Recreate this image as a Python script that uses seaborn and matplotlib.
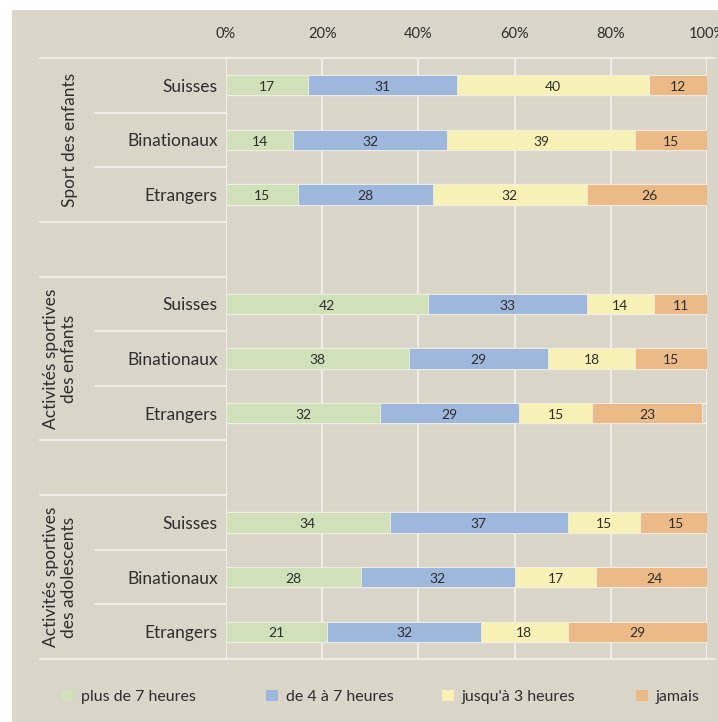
import matplotlib
matplotlib.use("Agg")
import matplotlib.pyplot as plt
import matplotlib.patches as mpatches
import matplotlib.transforms as mtransforms
import numpy as np
import pandas as pd
import seaborn as sns

# ---- data -------------------------------------------------------------
groups = ["Sport des enfants",
          "Activités sportives\ndes enfants",
          "Activités sportives\ndes adolescents"]
origins = ["Suisses", "Binationaux", "Etrangers"]
series = ["plus de 7 heures", "de 4 à 7 heures", "jusqu'à 3 heures", "jamais"]

plus_7h = [17, 14, 15, 42, 38, 32, 34, 28, 21]
de_4_a_7h = [31, 32, 28, 33, 29, 29, 37, 32, 32]
jusqua_3h = [40, 39, 32, 14, 18, 15, 15, 17, 18]
jamais = [12, 15, 26, 11, 15, 23, 15, 24, 29]

ticks = [0, 20, 40, 60, 80, 100]
tick_labels = ["0%", "20%", "40%", "60%", "80%", "100%"]

colors = ["#d0e0b9", "#9eb7dc", "#f7f1b5", "#ebba86"]
bg = "#d9d5c8"
ink = "#2e2e2e"

# ---- table ------------------------------------------------------------
rows = []
order = []
for gi, g in enumerate(groups):
    for oi, o in enumerate(origins):
        k = gi * 3 + oi
        key = f"{gi}-{o}"
        rows.append(dict(key=key, origin=o,
                         v1=plus_7h[k], v2=de_4_a_7h[k],
                         v3=jusqua_3h[k], v4=jamais[k]))
        order.append(key)
    if gi < len(groups) - 1:
        order.append(f"gap{gi}")
df = pd.DataFrame(rows)
vals = df[["v1", "v2", "v3", "v4"]].to_numpy()
cum = np.cumsum(vals, axis=1)
for i in range(4):
    df[f"c{i+1}"] = cum[:, i]

# ---- figure -----------------------------------------------------------
sns.set_theme(style="white")
plt.rcParams["font.family"] = ["Lato", "DejaVu Sans"]

W, H = 718, 722
fig = plt.figure(figsize=(W / 100, H / 100), dpi=100, facecolor="white")
fig.patches.append(mpatches.Rectangle((12 / W, 0), 1 - 12 / W, 1 - 10 / H,
                                      transform=fig.transFigure,
                                      facecolor=bg, edgecolor="none", zorder=-10))

x0, x1, ytop, ybot = 226, 707, 58, 659
ax = fig.add_axes([x0 / W, 1 - ybot / H, (x1 - x0) / W, (ybot - ytop) / H])
ax.set_facecolor("none")

bar_h = 0.37
# stacked bars: draw cumulative totals from the longest down
for i in [3, 2, 1, 0]:
    sns.barplot(data=df, x=f"c{i+1}", y="key", order=order, orient="h",
                color=colors[i], saturation=1, width=bar_h, errorbar=None,
                edgecolor="#f1eee6", linewidth=0.6, ax=ax, zorder=3)

ax.set_xlim(0, 100)
ax.set_ylim(len(order) - 0.5, -0.5)

# value labels
pos = {k: i for i, k in enumerate(order)}
for r, (_, row) in enumerate(df.iterrows()):
    y = pos[row["key"]]
    left = 0
    for i in range(4):
        v = vals[r, i]
        ax.text(left + v / 2, y + 0.03, f"{v}", ha="center", va="center",
                fontsize=10, color=ink, zorder=5)
        left += v

# grid lines
line_c = "#f4f2ec"
for t in ticks:
    ax.axvline(t, color=line_c, lw=1.2, zorder=1)
for key in df["key"]:
    y = pos[key]
    ax.hlines([y - bar_h / 2, y + bar_h / 2], 0, 100, color=line_c,
              lw=0.9, zorder=2)

# separators in label area (axes-x, data-y)
trans = mtransforms.blended_transform_factory(ax.transAxes, ax.transData)
ax_w = x1 - x0
xa_outer = (40 - x0) / ax_w
xa_inner = (95 - x0) / ax_w
xa_right = (715 - x0) / ax_w
for b in np.arange(-0.5, len(order), 1.0):
    if b in (-0.5, len(order) - 0.5):
        xs, xe = xa_outer, xa_right
    elif b in (2.5, 3.5, 6.5, 7.5):
        xs, xe = xa_outer, 0
    else:
        xs, xe = xa_inner, 0
    ax.plot([xs, xe], [b, b], color=line_c, lw=1.2, transform=trans,
            clip_on=False, zorder=1)

# axes styling
ax.xaxis.tick_top()
ax.set_xticks(ticks)
ax.set_xticklabels(tick_labels, fontsize=10.5, color=ink)
ax.tick_params(axis="x", length=0, pad=12)
yl = [k.split("-", 1)[1] if "-" in k else "" for k in order]
ax.set_yticks(range(len(order)))
ax.set_yticklabels(yl, fontsize=12.5, color=ink)
ax.tick_params(axis="y", length=0, pad=6)
ax.set_xlabel("")
ax.set_ylabel("")
for s in ax.spines.values():
    s.set_visible(False)

# group titles
centers = [1, 5, 9]
gx = [(70 - x0) / ax_w, (60 - x0) / ax_w, (60 - x0) / ax_w]
for g, c, xg in zip(groups, centers, gx):
    ax.text(xg, c, g, rotation=90, ha="center", va="center",
            fontsize=12.5, color=ink, transform=trans, linespacing=1.15)

# legend: one entry per slot along the bottom
legend_x = [47, 252, 428, 622]
for c, label, lx in zip(colors, series, legend_x):
    h = mpatches.Patch(facecolor=c, edgecolor="none")
    leg = fig.legend([h], [label], loc="center left",
                     bbox_to_anchor=(lx / W, 1 - 697 / H), frameon=False,
                     fontsize=11.5, handlelength=0.75, handleheight=0.75,
                     handletextpad=0.45, labelcolor=ink)

fig.savefig("out.png", dpi=100, facecolor="white")
